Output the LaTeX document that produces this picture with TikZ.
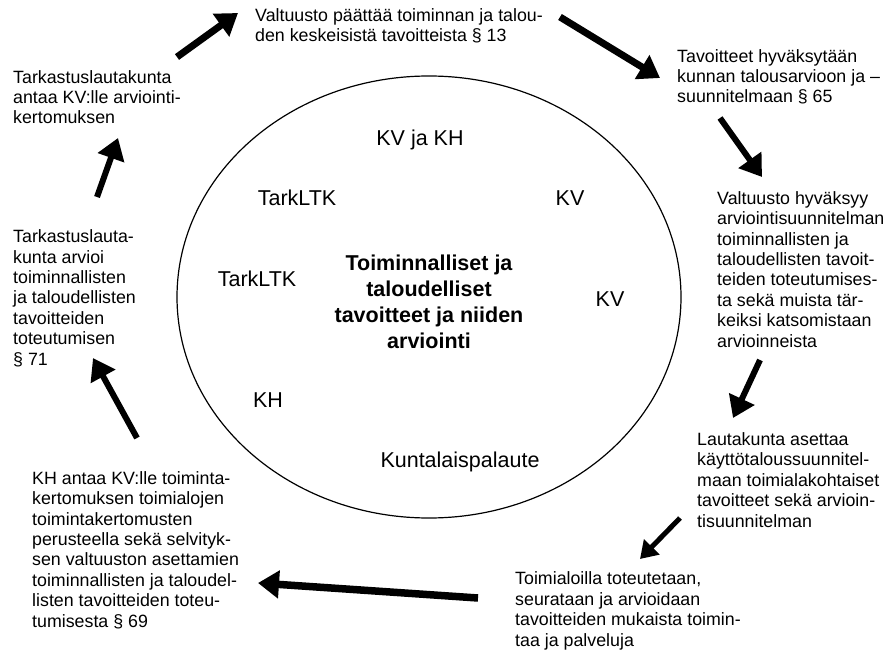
\documentclass[tikz,border=0pt]{standalone}
\usepackage{fontspec}
\setmainfont{Liberation Sans}
\usetikzlibrary{math,arrows.meta}

\tikzset{
  txt/.style={anchor=base west, align=left, inner sep=0pt,
    font=\fontsize{17.8}{20.4}\selectfont},
  lbl/.style={anchor=base, inner sep=0pt,
    font=\fontsize{21.5}{26}\selectfont},
  arr/.style={line width=7pt, -{Triangle[length=21pt,width=27pt]}},
  thinarr/.style={line width=5pt, -{Triangle[length=17pt,width=21pt]}},
}

\begin{document}
\begin{tikzpicture}[x=1pt, y=-1pt]
  \tikzmath{\cx = 429;}
  \tikzmath{\cy = 297;}

  \useasboundingbox (0,0) rectangle (886,652);

  % ellipse
  \draw[line width=1.2pt] (\cx,\cy) ellipse [x radius=252pt, y radius=221pt];

  % inside labels
  \node[lbl] (kvkh) at (420,146) {KV ja KH};
  \node[lbl] (tark1) at (297,206) {TarkLTK};
  \node[lbl] (kv1) at (570,206) {KV};
  \node[lbl] (tark2) at (257,287) {TarkLTK};
  \node[lbl] (kv2) at (610,307) {KV};
  \node[lbl] (kh) at (268,407) {KH};
  \node[lbl] (palaute) at (460,467) {Kuntalaispalaute};

  % center (placed by its last line)
  \node[lbl, align=center, font=\fontsize{21.5}{25.7}\selectfont\bfseries]
    (keskus) at (\cx,348)
    {Toiminnalliset ja\\taloudelliset\\tavoitteet ja niiden\\arviointi};

  % steps round the circle (placed by their last line)
  \node[txt] (paatos) at (255,42)
    {Valtuusto päättää toiminnan ja talou-\\den keskeisistä tavoitteista § 13};
  \node[txt] (hyvaksy) at (677,103)
    {Tavoitteet hyväksytään\\kunnan talousarvioon ja –\\suunnitelmaan § 65};
  \node[txt] (arviosuun) at (717,347)
    {Valtuusto hyväksyy\\arviointisuunnitelman\\toiminnallisten ja\\taloudellisten tavoit-\\teiden toteutumises-\\ta sekä muista tär-\\keiksi katsomistaan\\arvioinneista};
  \node[txt] (kayttosuun) at (697,527)
    {Lautakunta asettaa\\käyttötaloussuunnitel-\\maan toimialakohtaiset\\tavoitteet sekä arvioin-\\tisuunnitelman};
  \node[txt] (toteutus) at (515,646)
    {Toimialoilla toteutetaan,\\seurataan ja arvioidaan\\tavoitteiden mukaista toimin-\\taa ja palveluja};
  \node[txt] (toimkert) at (32,627)
    {KH antaa KV:lle toiminta-\\kertomuksen toimialojen\\toimintakertomusten\\perusteella sekä selvityk-\\sen valtuuston asettamien\\toiminnallisten ja taloudel-\\listen tavoitteiden toteu-\\tumisesta § 69};
  \node[txt] (tarkarvio) at (13,365)
    {Tarkastuslauta-\\kunta arvioi\\toiminnallisten\\ja taloudellisten\\tavoitteiden\\toteutumisen\\§ 71};
  \node[txt] (tarkkert) at (13,124)
    {Tarkastuslautakunta\\antaa KV:lle arviointi-\\kertomuksen};

  % arrow ends
  \coordinate (a1) at (177,57);  \coordinate (b1) at (238,13);
  \coordinate (a2) at (560,17);  \coordinate (b2) at (660,78);
  \coordinate (a3) at (720,118); \coordinate (b3) at (762,177);
  \coordinate (a4) at (760,360); \coordinate (b4) at (733,418);
  \coordinate (a5) at (680,518); \coordinate (b5) at (640,559);
  \coordinate (a6) at (478,598); \coordinate (b6) at (258,583);
  \coordinate (a7) at (137,438); \coordinate (b7) at (93,358);
  \coordinate (a8) at (97,197);  \coordinate (b8) at (118,138);

  % arrows
  \draw[arr] (a1) -- (b1);
  \draw[arr] (a2) -- (b2);
  \draw[arr, line width=6pt] (a3) -- (b3);
  \draw[arr, line width=6pt] (a4) -- (b4);
  \draw[thinarr] (a5) -- (b5);
  \draw[arr, line width=7.5pt] (a6) -- (b6);
  \draw[arr, line width=6pt] (a7) -- (b7);
  \draw[arr, line width=6pt] (a8) -- (b8);
\end{tikzpicture}
\end{document}
